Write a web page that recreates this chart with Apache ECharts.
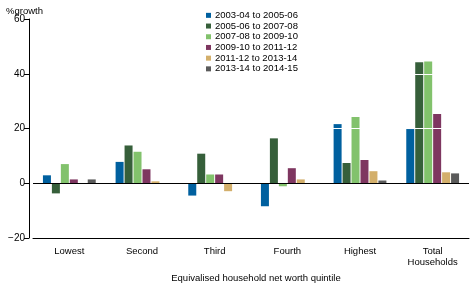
<!DOCTYPE html>
<html>
<head>
<meta charset="utf-8">
<script src="https://cdn.jsdelivr.net/npm/echarts@6/dist/echarts.min.js"></script>
<style>
  html, body { margin: 0; padding: 0; background: #fff; }
  #chart { width: 472px; height: 283px; }
</style>
</head>
<body>
<div id="chart"></div>
<script>
const categories = ['Lowest', 'Second', 'Third', 'Fourth', 'Highest', 'Total\nHouseholds']
const periods = [
  '2003-04 to 2005-06',
  '2005-06 to 2007-08',
  '2007-08 to 2009-10',
  '2009-10 to 2011-12',
  '2011-12 to 2013-14',
  '2013-14 to 2014-15'
]
const growth0304 = [2.9, 7.8, -4.5, -8.4, 21.6, 19.8]
const growth0506 = [-3.7, 13.8, 10.8, 16.4, 7.4, 44.2]
const growth0708 = [7.0, 11.5, 3.2, -1.1, 24.2, 44.5]
const growth0910 = [1.4, 5.1, 3.2, 5.5, 8.5, 25.3]
const growth1112 = [0, 0.7, -2.9, 1.4, 4.4, 4.0]
const growth1314 = [1.4, 0, 0, 0, 1.0, 3.6]
const yTicks = [-20, 0, 20, 40, 60]

const colors = ['#00609f', '#365f3a', '#82c26c', '#7e3660', '#d3af6b', '#5a5a5a']
const font = "'Liberation Sans', Arial, sans-serif"
const seriesData = [growth0304, growth0506, growth0708, growth0910, growth1112, growth1314]

const chart = echarts.init(document.getElementById('chart'))

const series = seriesData.map((d, i) => ({
  name: periods[i],
  type: 'bar',
  data: d,
  barWidth: 8,
  barGap: '12%',
  itemStyle: { color: colors[i] }
}))

// white gridlines over the bars and black zero line, drawn on the last series
series[series.length - 1].markLine = {
  silent: true,
  symbol: 'none',
  label: { show: false },
  data: [
    { yAxis: 20, lineStyle: { color: '#fff', width: 1, type: 'solid' } },
    { yAxis: 40, lineStyle: { color: '#fff', width: 1, type: 'solid' } },
    { yAxis: 0, lineStyle: { color: '#000', width: 1, type: 'solid' } }
  ]
}

chart.setOption({
  animation: false,
  textStyle: { fontFamily: font },
  title: {
    text: '%growth',
    left: 1,
    top: 1,
    textStyle: { fontFamily: font, fontSize: 9.5, fontWeight: 'normal', color: '#000' }
  },
  legend: {
    data: periods,
    orient: 'vertical',
    left: 201,
    top: 5,
    z: 20,
    itemWidth: 5,
    itemHeight: 5,
    itemGap: 0,
    icon: 'rect',
    textStyle: { fontFamily: font, fontSize: 9.5, color: '#000', lineHeight: 10.7, padding: [0, 0, 0, -1] }
  },
  grid: { left: 33, right: 3, top: 19, bottom: 45, containLabel: false, outerBoundsMode: 'none' },
  xAxis: {
    type: 'category',
    data: categories,
    name: 'Equivalised household net worth quintile',
    nameLocation: 'middle',
    nameGap: 33,
    nameTextStyle: { fontFamily: font, fontSize: 9.5, color: '#000', padding: [0, 0, 0, 10] },
    axisLine: { onZero: false, lineStyle: { color: '#000', width: 1 } },
    axisTick: { alignWithLabel: true, inside: true, length: 4, lineStyle: { color: '#000' } },
    axisLabel: { fontFamily: font, fontSize: 9.5, color: '#000', margin: 8, lineHeight: 11, interval: 0 }
  },
  yAxis: {
    type: 'value',
    min: yTicks[0],
    max: yTicks[yTicks.length - 1],
    interval: 20,
    offset: 4,
    axisLine: { show: true, lineStyle: { color: '#000', width: 1 } },
    axisTick: { show: true, length: 5, lineStyle: { color: '#000' } },
    axisLabel: {
      fontFamily: font,
      fontSize: 10,
      color: '#000',
      margin: 4,
      formatter: (v) => (v < 0 ? '\u2212' + Math.abs(v) : String(v))
    },
    splitLine: { show: false }
  },
  series
})
</script>
</body>
</html>
